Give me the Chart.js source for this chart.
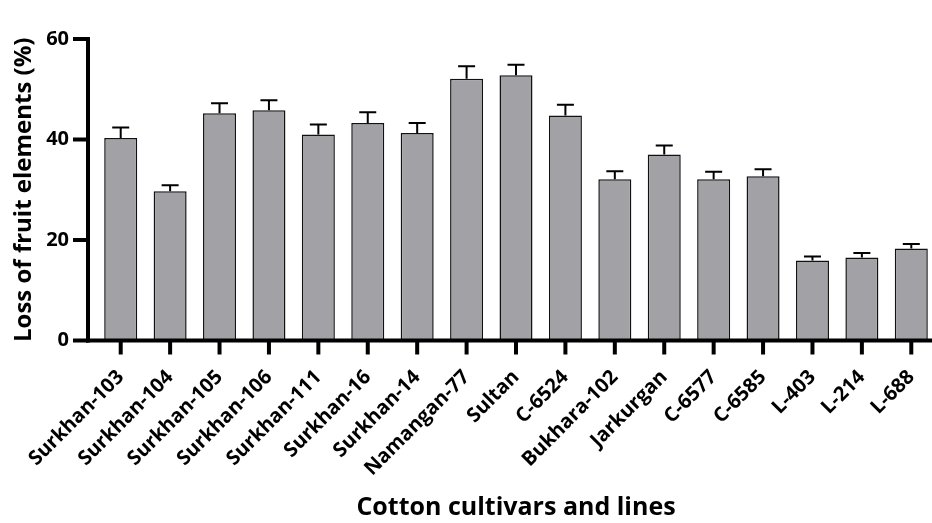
<!DOCTYPE html>
<html>
<head>
<meta charset="utf-8">
<script src="https://cdn.jsdelivr.net/npm/chart.js@4"></script>
<style>
  html, body { margin: 0; padding: 0; background: #fff; overflow: hidden; }
  #wrap { width: 940px; height: 523px; }
</style>
</head>
<body>
<div id="wrap"><canvas id="barChart"></canvas></div>
<script>
// Loss of fruit elements per cultivar / line
const cultivars = ['Surkhan-103', 'Surkhan-104', 'Surkhan-105', 'Surkhan-106', 'Surkhan-111', 'Surkhan-16',
  'Surkhan-14', 'Namangan-77', 'Sultan', 'C-6524', 'Bukhara-102', 'Jarkurgan', 'C-6577', 'C-6585',
  'L-403', 'L-214', 'L-688'];
const lossValues = [40.3, 29.7, 45.2, 45.8, 41.0, 43.3, 41.3, 52.1, 52.8, 44.8, 32.1, 37.0, 32.1, 32.7, 15.9, 16.5, 18.3];
const lossErrors = [2.1, 1.2, 2.0, 2.0, 2.0, 2.1, 2.0, 2.5, 2.1, 2.1, 1.6, 1.8, 1.5, 1.4, 0.8, 0.9, 0.9];
const yTicks = [0, 20, 40, 60];

const FONT = "'Open Sans', sans-serif";

// upper error bars, drawn from the y scale
const errorBars = {
  id: 'errorBars',
  afterDatasetsDraw(chart) {
    const ctx = chart.ctx;
    const y = chart.scales.y;
    const meta = chart.getDatasetMeta(0);
    ctx.save();
    ctx.strokeStyle = '#000';
    ctx.lineWidth = 2;
    meta.data.forEach((bar, i) => {
      const top = y.getPixelForValue(lossValues[i] + lossErrors[i]);
      const base = y.getPixelForValue(lossValues[i]);
      ctx.beginPath();
      ctx.moveTo(bar.x, base);
      ctx.lineTo(bar.x, top);
      ctx.moveTo(bar.x - 8.5, top);
      ctx.lineTo(bar.x + 8.5, top);
      ctx.stroke();
    });
    ctx.restore();
  }
};

// thick Prism-style axes with a gap before the first bar
const axesLines = {
  id: 'axesLines',
  afterDraw(chart) {
    const ctx = chart.ctx;
    const { x, y } = chart.scales;
    const area = chart.chartArea;
    const axisX = area.left - 8;
    ctx.save();
    ctx.fillStyle = '#000';
    // y axis
    ctx.fillRect(axisX - 2, y.getPixelForValue(60) - 2, 4, area.bottom - y.getPixelForValue(60) + 4);
    yTicks.forEach(v => {
      const py = y.getPixelForValue(v);
      ctx.fillRect(axisX - 15, py - 2, 15, 4);
    });
    // x axis
    ctx.fillRect(axisX - 2, area.bottom - 2, chart.width - axisX, 4);
    cultivars.forEach((c, i) => {
      const px = x.getPixelForValue(i);
      ctx.fillRect(px - 2, area.bottom, 4, 14);
    });
    ctx.restore();
  }
};

new Chart(document.getElementById('barChart').getContext('2d'), {
  type: 'bar',
  data: {
    labels: cultivars,
    datasets: [{
      label: 'Loss of fruit elements (%)',
      data: lossValues,
      backgroundColor: '#a2a1a6',
      borderColor: '#111',
      borderWidth: 1.5,
      categoryPercentage: 1,
      barPercentage: 0.668
    }]
  },
  options: {
    responsive: true,
    maintainAspectRatio: false,
    animation: false,
    layout: { padding: { top: 18.5, right: 4, bottom: 0, left: 0 } },
    plugins: {
      legend: { display: false },
      tooltip: { enabled: false }
    },
    scales: {
      x: {
        grid: { display: false, drawTicks: false },
        border: { display: false },
        ticks: {
          autoSkip: false,
          maxRotation: 45,
          minRotation: 45,
          padding: 25,
          color: '#000',
          font: { family: FONT, size: 20, weight: 'bold' }
        },
        title: {
          display: true,
          text: 'Cotton cultivars and lines',
          color: '#000',
          font: { family: FONT, size: 25, weight: 'bold' },
          padding: { top: 0, bottom: 0 }
        },
        afterFit(scale) {
          scale.height = 182.5;
          scale.paddingLeft = 0;
          scale.paddingRight = 0;
        }
      },
      y: {
        min: 0,
        max: 60,
        grid: { display: false, drawTicks: false },
        border: { display: false },
        ticks: {
          stepSize: 20,
          padding: 27,
          color: '#000',
          font: { family: FONT, size: 20, weight: 'bold' }
        },
        title: {
          display: true,
          text: 'Loss of fruit elements (%)',
          color: '#000',
          font: { family: FONT, size: 24, weight: 'bold' },
          padding: { top: 9.5, bottom: 0 }
        },
        afterFit(scale) { scale.width = 96; }
      }
    }
  },
  plugins: [errorBars, axesLines]
});
</script>
</body>
</html>
